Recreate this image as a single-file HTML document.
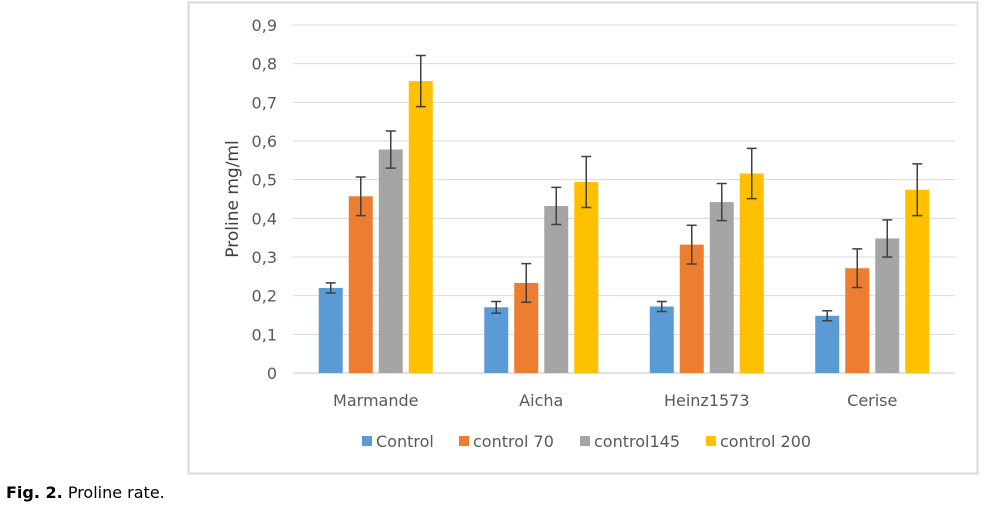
<!DOCTYPE html>
<html><head><meta charset="utf-8"><style>
body{margin:0;background:#fff;width:990px;height:514px;overflow:hidden;font-family:"DejaVu Sans","Liberation Sans",sans-serif;}
svg text{font-family:"DejaVu Sans","Liberation Sans",sans-serif;}
</style></head><body>
<svg id="chart" width="990" height="514" xmlns="http://www.w3.org/2000/svg">
<rect x="188.5" y="2.5" width="789" height="471" fill="#fff" stroke="#d9d9d9" stroke-width="2"/>
<g id="grid"></g><g id="bars"></g><g id="errs"></g><g id="labels"></g>
<text transform="translate(238,199) rotate(-90)" text-anchor="middle" font-size="17" fill="#404040">Proline mg/ml</text>
<g id="legend"></g>
<text x="6" y="498" font-size="16" fill="#000"><tspan font-weight="bold">Fig. 2.</tspan> Proline rate.</text>
</svg>
<script>
const categories=["Marmande","Aicha","Heinz1573","Cerise"];
const seriesNames=["Control","control 70","control145","control 200"];
const colors=["#5b9bd5","#ed7d31","#a5a5a5","#ffc000"];
const sControl=[0.22,0.17,0.172,0.148];
const s70=[0.457,0.233,0.332,0.271];
const s145=[0.578,0.432,0.442,0.348];
const s200=[0.755,0.494,0.516,0.474];
const eControl=[0.013,0.015,0.013,0.013];
const e70=[0.05,0.05,0.05,0.05];
const e145=[0.048,0.048,0.048,0.048];
const e200=[0.066,0.066,0.065,0.067];
const yTicks=["0","0,1","0,2","0,3","0,4","0,5","0,6","0,7","0,8","0,9"];
const series=[sControl,s70,s145,s200], errs=[eControl,e70,e145,e200];
const NS="http://www.w3.org/2000/svg";
const x0=293,x1=955,yB=373,yT=25,yMax=0.9;
const y=v=>yB-(v/yMax)*(yB-yT);
const gw=(x1-x0)/categories.length;
const xc=i=>x0+gw*(i+0.5);
function mk(t,a,p){const e=document.createElementNS(NS,t);for(const k in a)e.setAttribute(k,a[k]);document.getElementById(p).appendChild(e);return e;}
yTicks.forEach((t,i)=>{const v=i*0.1;
 if(i>0){const l=mk("line",{x1:x0,x2:x1,y1:y(v),y2:y(v),stroke:"#d9d9d9","stroke-width":1},"grid");
 
 }
 const tx=mk("text",{x:277,y:y(v)+6,"text-anchor":"end","font-size":16,fill:"#595959"},"labels");tx.textContent=t;
 
 
});
const ax=mk("line",{x1:x0,x2:x1,y1:yB,y2:yB,stroke:"#d9d9d9","stroke-width":1.5},"grid");


const bw=24,step=30;
categories.forEach((c,i)=>{
 series.forEach((s,j)=>{
  const bx=xc(i)+(j-1.5)*step-bw/2;
  const r=mk("rect",{x:bx,y:y(s[i]),width:bw,height:yB-y(s[i]),fill:colors[j]},"bars");
  
  
  const cx=bx+bw/2,hi=y(s[i]+errs[j][i]),lo=y(s[i]-errs[j][i]);
  const g=mk("path",{d:`M${cx},${hi}V${lo}M${cx-5},${hi}H${cx+5}M${cx-5},${lo}H${cx+5}`,stroke:"#404040","stroke-width":1.5,fill:"none"},"errs");
  
  
 });
 const t=mk("text",{x:xc(i),y:406,"text-anchor":"middle","font-size":16,fill:"#595959"},"labels");t.textContent=c;
 
 
});
const lx=[362,459,580,706];
seriesNames.forEach((n,j)=>{
 const r=mk("rect",{x:lx[j],y:436,width:10,height:10,fill:colors[j]},"legend");
 
 
 const t=mk("text",{x:lx[j]+14,y:447,"font-size":16,fill:"#595959"},"legend");t.textContent=n;
 
 
});
</script>
</body></html>
